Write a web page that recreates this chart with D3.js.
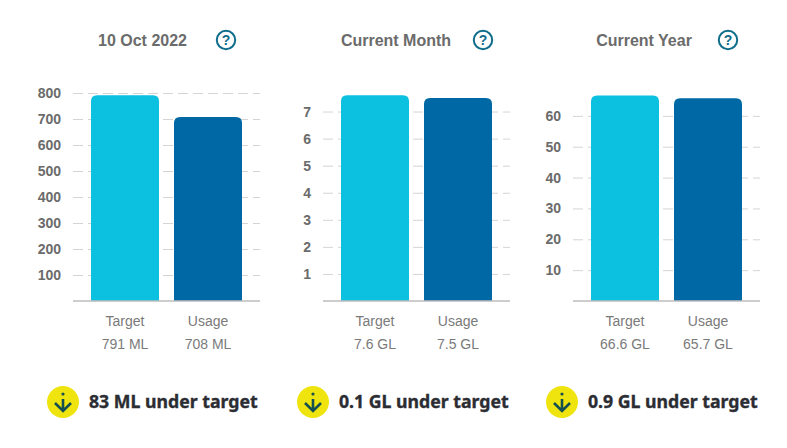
<!DOCTYPE html>
<html><head><meta charset="utf-8">
<script src="https://cdn.jsdelivr.net/npm/d3@7"></script>
<style>
html,body{margin:0;padding:0;background:#fff}
svg{display:block}
text{font-family:"Liberation Sans",Arial,sans-serif}
</style></head><body><svg id="c" width="787" height="448"></svg>
<script>
const titles = ["10 Oct 2022","Current Month","Current Year"];
const categories = ["Target","Usage"];
const targetValues = [791,7.6,66.6];
const usageValues = [708,7.5,65.7];
const targetLabels = ["791 ML","7.6 GL","66.6 GL"];
const usageLabels = ["708 ML","7.5 GL","65.7 GL"];
const yTicks = [[100,200,300,400,500,600,700,800],[1,2,3,4,5,6,7],[10,20,30,40,50,60]];
const yMax = [800,7.6,66.6];
const summaries = ["83 ML under target","0.1 GL under target","0.9 GL under target"];
const colors = ["#0cc0df","#0069a5"];

const panelLeft = [73,323,573];
const titleX = [142.5,396,644];
const helpX = [226,483,728];
const iconX = [63,313,562];
const panelW = 187, baseY = 301;
const topY = [93,95.3,95.5];
const svg = d3.select("#c");

titles.forEach((t,i)=>{
  const g = svg.append("g");
  const x = d3.scaleBand().domain(categories).range([panelLeft[i],panelLeft[i]+panelW]).paddingInner(15/83).paddingOuter(18/83);
  const y = d3.scaleLinear().domain([0,yMax[i]]).range([baseY,topY[i]]);
  const vals = [targetValues[i],usageValues[i]];
  const labels = [targetLabels[i],usageLabels[i]];

  g.append("text").attr("x",titleX[i]).attr("y",45.5).attr("text-anchor","middle")
    .attr("font-size",16).attr("font-weight","bold").attr("fill","#6b6b6b").text(t);
  g.append("circle").attr("cx",helpX[i]).attr("cy",40).attr("r",9.2).attr("fill","none").attr("stroke","#0f6d8c").attr("stroke-width",2);
  g.append("text").attr("x",helpX[i]).attr("y",45).attr("text-anchor","middle").attr("font-size",14).attr("font-weight","bold").attr("fill","#0f6d8c").text("?");

  const axis = d3.axisLeft(y).tickValues(yTicks[i]).tickSize(-panelW).tickPadding(12).tickFormat(d3.format("d"));
  const ag = g.append("g").attr("transform",`translate(${panelLeft[i]},0)`).call(axis);
  ag.select(".domain").remove();
  ag.selectAll(".tick line").attr("stroke","#d4d4d4").attr("stroke-dasharray","10 5");
  ag.selectAll(".tick text").attr("font-size",14).attr("font-weight","bold").attr("fill","#6b6b6b")
    .style("font-family",'"Liberation Sans",Arial,sans-serif');

  categories.forEach((c,j)=>{
    const bx = x(c), bw = x.bandwidth(), ty = y(vals[j]), r = 6;
    g.append("path").attr("fill",colors[j])
      .attr("d",`M${bx},${baseY}V${ty+r}Q${bx},${ty} ${bx+r},${ty}H${bx+bw-r}Q${bx+bw},${ty} ${bx+bw},${ty+r}V${baseY}Z`);
    g.append("text").attr("x",bx+bw/2).attr("y",326).attr("text-anchor","middle").attr("font-size",14).attr("fill","#7a7a7a").text(c);
    g.append("text").attr("x",bx+bw/2).attr("y",349).attr("text-anchor","middle").attr("font-size",14).attr("fill","#7a7a7a").text(labels[j]);
  });
  g.append("line").attr("x1",panelLeft[i]).attr("x2",panelLeft[i]+panelW).attr("y1",baseY).attr("y2",baseY).attr("stroke","#bdbdbd").attr("stroke-width",1.5);

  const cx = iconX[i], cy = 402;
  g.append("circle").attr("cx",cx).attr("cy",cy).attr("r",16).attr("fill","#f0e40f");
  g.append("path").attr("d",`M${cx},${cy-3}V${cy+8}M${cx-8},${cy+1}L${cx},${cy+9}L${cx+8},${cy+1}`)
    .attr("fill","none").attr("stroke","#14504f").attr("stroke-width",2.6);
  g.append("circle").attr("cx",cx).attr("cy",cy-8).attr("r",1.6).attr("fill","#14504f");
  g.append("text").attr("x",cx+26).attr("y",407.5).attr("font-size",17.7).attr("font-weight","bold")
    .style("font-family",'"Noto Sans",sans-serif').attr("fill","#2b2d33").attr("stroke","#2b2d33").attr("stroke-width",0.35).text(summaries[i]);
});
</script></body></html>
